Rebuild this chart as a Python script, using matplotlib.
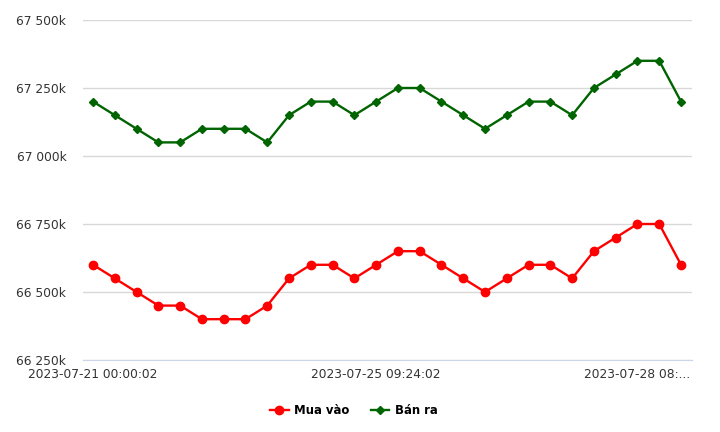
import matplotlib
matplotlib.use("Agg")
from matplotlib import pyplot as plt
from matplotlib.ticker import FuncFormatter

# Giá vàng (nghìn đồng), 28 lần cập nhật
mua_vao = [66600, 66550, 66500, 66450, 66450, 66400, 66400, 66400, 66450, 66550,
           66600, 66600, 66550, 66600, 66650, 66650, 66600, 66550, 66500, 66550,
           66600, 66600, 66550, 66650, 66700, 66750, 66750, 66600]
ban_ra = [67200, 67150, 67100, 67050, 67050, 67100, 67100, 67100, 67050, 67150,
          67200, 67200, 67150, 67200, 67250, 67250, 67200, 67150, 67100, 67150,
          67200, 67200, 67150, 67250, 67300, 67350, 67350, 67200]
tick_idx = [0, 13, 25]
tick_labels = ["2023-07-21 00:00:02", "2023-07-25 09:24:02", "2023-07-28 08:..."]
y_ticks = [66250, 66500, 66750, 67000, 67250, 67500]

x = list(range(len(mua_vao)))

fig = plt.figure(figsize=(7.2, 4.32), dpi=100)
ax = fig.add_axes([0.1153, 0.1667, 0.8457, 0.787])

ax.plot(x, mua_vao, color="#ff0000", lw=1.7, marker="o", ms=6, label="Mua vào", zorder=3)
ax.plot(x, ban_ra, color="#006400", lw=1.7, marker="D", ms=4.3, label="Bán ra", zorder=3)

ax.set_xlim(-0.46, 27.5)
ax.set_ylim(66250, 67500)
ax.set_yticks(y_ticks)
ax.yaxis.set_major_formatter(FuncFormatter(lambda v, p: "{:,.0f}k".format(v).replace(",", " ")))
ax.grid(axis="y", color="#d8d8d8", lw=1)
ax.set_axisbelow(True)

ax.set_xticks(tick_idx)
ax.set_xticklabels(tick_labels)

for s in ["top", "right", "left"]:
    ax.spines[s].set_visible(False)
ax.spines["bottom"].set_color("#ccd6eb")
ax.tick_params(axis="both", length=0, labelsize=8.8, colors="#333333")
ax.tick_params(axis="y", pad=12)
ax.tick_params(axis="x", pad=6)

leg = ax.legend(loc="upper center", bbox_to_anchor=(0.445, -0.1), ncol=2, frameon=False,
                prop={"weight": "bold", "size": 8.4}, handlelength=1.6, columnspacing=1.8,
                handletextpad=0.5)

fig.savefig("out.png")
